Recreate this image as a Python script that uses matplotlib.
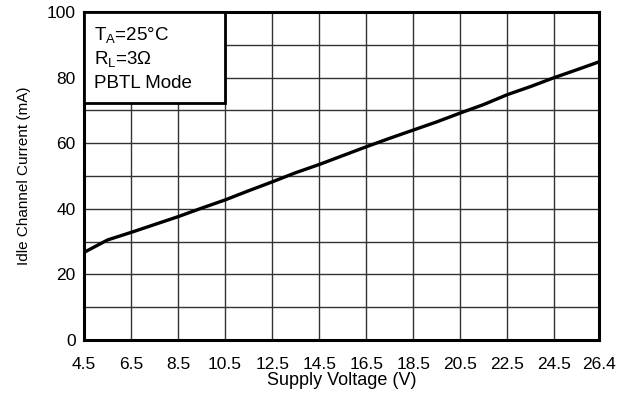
import matplotlib.pyplot as plt
from matplotlib.patches import Rectangle

plt.rcParams['font.family'] = ['Liberation Sans', 'DejaVu Sans']
plt.rcParams['mathtext.fontset'] = 'custom'
plt.rcParams['mathtext.rm'] = 'Liberation Sans'

# supply voltage (V) and idle channel current (mA)
voltage = [4.5, 5.5, 6.5, 7.5, 8.5, 9.5, 10.5, 11.5, 12.5, 13.5, 14.5, 15.5,
           16.5, 17.5, 18.5, 19.5, 20.5, 21.5, 22.5, 23.5, 24.5, 25.5, 26.4]
current = [26.7, 30.5, 32.8, 35.2, 37.6, 40.2, 42.7, 45.5, 48.2, 51.0, 53.5, 56.2,
           58.9, 61.5, 64.0, 66.5, 69.2, 71.8, 74.8, 77.3, 80.0, 82.5, 84.8]

x_ticks = [4.5, 6.5, 8.5, 10.5, 12.5, 14.5, 16.5, 18.5, 20.5, 22.5, 24.5, 26.4]
y_ticks = [0, 20, 40, 60, 80, 100]
y_grid = [10, 20, 30, 40, 50, 60, 70, 80, 90]
notes = [r'T$_\mathregular{A}$=25°C', r'R$_\mathregular{L}$=3Ω', 'PBTL Mode']

fig = plt.figure(figsize=(6.31, 3.94), dpi=100)
ax = fig.add_axes([84 / 631, 54 / 394, 515 / 631, 328 / 394])

for v in x_ticks[1:-1]:
    ax.axvline(v, color='#333333', lw=1.0, zorder=1)
for c in y_grid:
    ax.axhline(c, color='#333333', lw=1.0, zorder=1)

ax.plot(voltage, current, color='black', lw=2.4, zorder=3)

ax.set_xlim(4.5, 26.4)
ax.set_ylim(0, 100)
ax.set_xticks(x_ticks)
ax.set_xticklabels([f'{v:.1f}' for v in x_ticks])
ax.set_yticks(y_ticks)
ax.tick_params(length=0, labelsize=12.5)
ax.tick_params(axis='x', pad=12)
ax.tick_params(axis='y', pad=6)
for s in ax.spines.values():
    s.set_linewidth(2.2)

box = Rectangle((4.5, 72.3), 6.0, 27.7, facecolor='white', edgecolor='black',
                lw=2.0, zorder=4)
ax.add_patch(box)
for i, t in enumerate(notes):
    fig.text(94 / 631, 1 - (36 + 23.5 * i) / 394, t, fontsize=13.5, va='center',
             ha='left', zorder=5)

ax.set_xlabel('Supply Voltage (V)', fontsize=13, labelpad=0)
ax.set_ylabel('Idle Channel Current (mA)', fontsize=11, labelpad=11)

fig.savefig('out.png', dpi=100)
